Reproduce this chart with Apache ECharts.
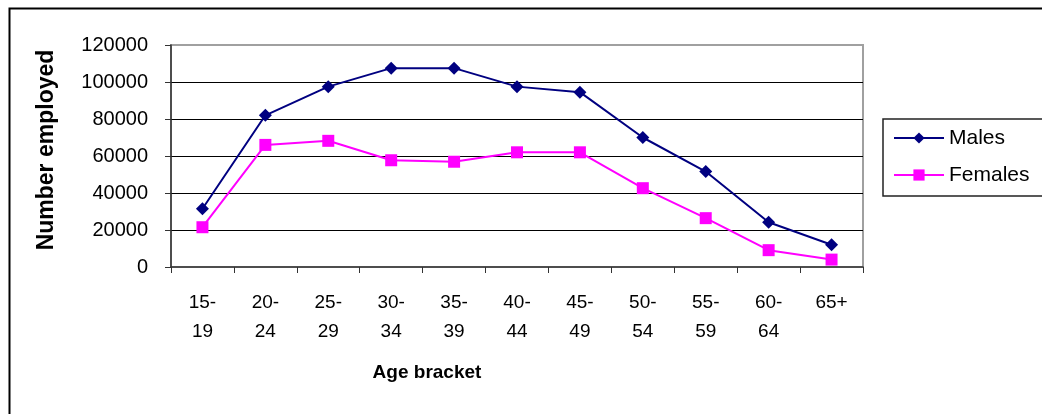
<!DOCTYPE html>
<html>
<head>
<meta charset="utf-8">
<script src="https://cdn.jsdelivr.net/npm/echarts@6/dist/echarts.min.js"></script>
<style>
  html, body { margin: 0; padding: 0; background: #fff; }
  #chart { width: 1042px; height: 414px; }
</style>
</head>
<body>
<div id="chart"></div>
<script>
// Employment by age bracket
var ageBrackets = ['15-\n19', '20-\n24', '25-\n29', '30-\n34', '35-\n39', '40-\n44', '45-\n49', '50-\n54', '55-\n59', '60-\n64', '65+'];
var males   = [31500, 82000, 97500, 107500, 107500, 97500, 94500, 70000, 51600, 24200, 12000];
var females = [21500, 66000, 68200, 57700, 56900, 62000, 62000, 42600, 26400, 9100, 4000];
var yTicks = { min: 0, max: 120000, step: 20000 };

var narrow = "'Liberation Sans Narrow', 'Arial Narrow', 'Liberation Sans', Arial, sans-serif";
var sans = "'Liberation Sans', Arial, sans-serif";

var chart = echarts.init(document.getElementById('chart'), null, { renderer: 'canvas' });

chart.setOption({
  animation: false,
  backgroundColor: '#fff',
  grid: {
    left: 171, top: 45, right: 179, bottom: 147,
    show: true, borderColor: '#a0a0a0', borderWidth: 2, backgroundColor: 'transparent'
  },
  legend: {
    orient: 'vertical',
    left: 883, top: 119,
    padding: [8, 40, 10, 10],
    itemGap: 15,
    itemWidth: 50, itemHeight: 14,
    borderColor: '#222', borderWidth: 1.5,
    textStyle: { fontFamily: sans, fontSize: 21, color: '#000', lineHeight: 22 },
    data: ['Males', 'Females']
  },
  xAxis: {
    type: 'category',
    data: ageBrackets,
    boundaryGap: true,
    axisLine: { lineStyle: { color: '#333', width: 1.5 } },
    axisTick: { show: true, length: 6, inside: false, lineStyle: { color: '#333' } },
    axisLabel: {
      interval: 0, margin: 21, color: '#000',
      fontFamily: narrow, fontSize: 19, lineHeight: 29
    },
    splitLine: { show: false }
  },
  yAxis: {
    type: 'value',
    min: yTicks.min, max: yTicks.max, interval: yTicks.step,
    axisLine: { show: true, lineStyle: { color: '#333', width: 1.5 } },
    axisTick: { show: true, length: 6, lineStyle: { color: '#333' } },
    axisLabel: {
      margin: 23, color: '#000', fontFamily: sans, fontSize: 20,
      formatter: function (v) { return String(v); }
    },
    splitLine: { show: true, showMinLine: false, showMaxLine: false, lineStyle: { color: '#000', width: 1 } }
  },
  graphic: [
    {
      type: 'rect', left: 7, top: 6, z: 100, silent: true,
      shape: { width: 1100, height: 500 },
      style: { fill: null, stroke: '#000', lineWidth: 2 }
    },
    {
      type: 'text', x: 47, y: 150, rotation: Math.PI / 2,
      style: { text: 'Number employed', fill: '#000', font: 'bold 23px ' + sans, align: 'center', verticalAlign: 'middle' }
    },
    {
      type: 'text', x: 427, y: 373,
      style: { text: 'Age bracket', fill: '#000', font: 'bold 19px ' + narrow, align: 'center', verticalAlign: 'middle' }
    }
  ],
  series: [
    {
      name: 'Males', type: 'line', data: males,
      symbol: 'diamond', symbolSize: 13,
      itemStyle: { color: '#000080' },
      lineStyle: { color: '#000080', width: 2 }
    },
    {
      name: 'Females', type: 'line', data: females,
      symbol: 'rect', symbolSize: 12,
      itemStyle: { color: '#ff00ff' },
      lineStyle: { color: '#ff00ff', width: 2 }
    }
  ]
});
</script>
</body>
</html>
